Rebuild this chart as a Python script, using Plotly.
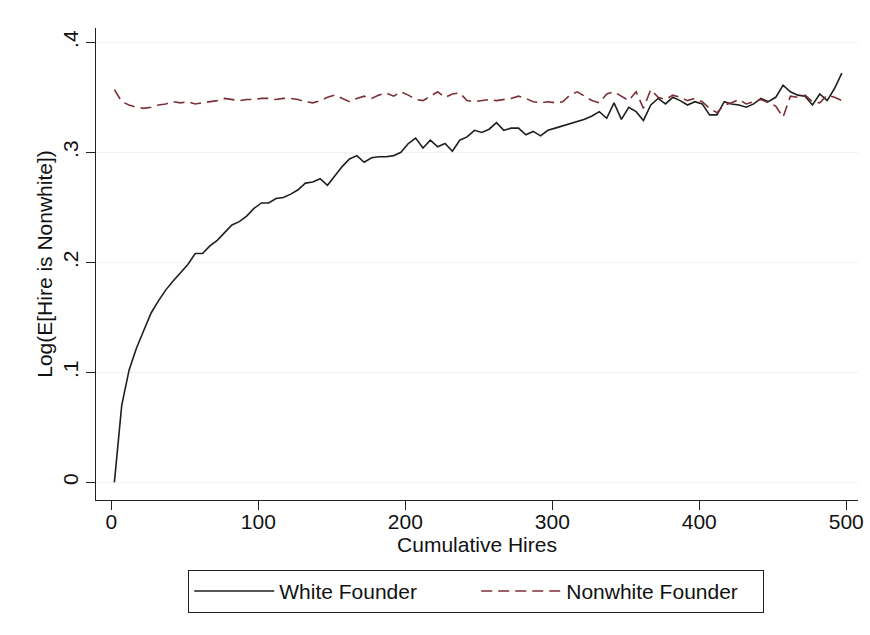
import plotly.graph_objects as go

# cumulative hires (bin positions)
hires = [
    2, 7, 12, 17, 22, 27, 32, 37, 42, 47, 52, 57, 62, 67, 72, 77, 82, 87, 92, 97,
    102, 107, 112, 117, 122, 127, 132, 137, 142, 147, 152, 157, 162, 167, 172, 177, 182, 187, 192, 197,
    202, 207, 212, 217, 222, 227, 232, 237, 242, 247, 252, 257, 262, 267, 272, 277, 282, 287, 292, 297,
    302, 307, 312, 317, 322, 327, 332, 337, 342, 347, 352, 357, 362, 367, 372, 377, 382, 387, 392, 397,
    402, 407, 412, 417, 422, 427, 432, 437, 442, 447, 452, 457, 462, 467, 472, 477, 482, 487, 492, 497,
]

white_founder = [
    0.000, 0.070, 0.102, 0.122, 0.138, 0.154, 0.165, 0.175, 0.183, 0.191,
    0.198, 0.208, 0.208, 0.215, 0.220, 0.227, 0.234, 0.237, 0.242, 0.249,
    0.254, 0.254, 0.258, 0.259, 0.262, 0.266, 0.272, 0.273, 0.276, 0.270,
    0.279, 0.287, 0.294, 0.297, 0.291, 0.295, 0.296, 0.296, 0.297, 0.300,
    0.308, 0.313, 0.304, 0.311, 0.305, 0.308, 0.301, 0.311, 0.314, 0.320,
    0.318, 0.321, 0.327, 0.320, 0.322, 0.322, 0.316, 0.319, 0.315, 0.320,
    0.322, 0.324, 0.326, 0.328, 0.330, 0.333, 0.337, 0.331, 0.345, 0.330,
    0.341, 0.337, 0.329, 0.343, 0.349, 0.344, 0.350, 0.347, 0.343, 0.346,
    0.344, 0.334, 0.334, 0.346, 0.344, 0.343, 0.341, 0.344, 0.349, 0.346,
    0.350, 0.361, 0.355, 0.352, 0.351, 0.343, 0.353, 0.347, 0.358, 0.372,
]

nonwhite_founder = [
    0.357, 0.346, 0.343, 0.341, 0.340, 0.341, 0.343, 0.344, 0.346, 0.345,
    0.346, 0.344, 0.345, 0.346, 0.347, 0.349, 0.348, 0.347, 0.348, 0.348,
    0.349, 0.349, 0.348, 0.349, 0.349, 0.348, 0.346, 0.345, 0.347, 0.350,
    0.352, 0.349, 0.346, 0.349, 0.351, 0.349, 0.352, 0.354, 0.351, 0.355,
    0.352, 0.348, 0.347, 0.351, 0.355, 0.350, 0.353, 0.354, 0.347, 0.346,
    0.347, 0.348, 0.347, 0.348, 0.349, 0.351, 0.349, 0.346, 0.345, 0.346,
    0.345, 0.346, 0.352, 0.355, 0.351, 0.347, 0.345, 0.353, 0.355, 0.351,
    0.347, 0.355, 0.340, 0.357, 0.350, 0.348, 0.352, 0.350, 0.347, 0.349,
    0.346, 0.340, 0.336, 0.343, 0.345, 0.348, 0.344, 0.346, 0.348, 0.345,
    0.342, 0.332, 0.351, 0.350, 0.352, 0.346, 0.345, 0.352, 0.350, 0.347,
]

x_ticks = [0, 100, 200, 300, 400, 500]
y_ticks = [0, 0.1, 0.2, 0.3, 0.4]
y_tick_text = ["0", ".1", ".2", ".3", ".4"]

FONT = "Liberation Sans, Arial, sans-serif"

fig = go.Figure()
fig.add_trace(go.Scatter(
    x=hires, y=white_founder, mode="lines", name="White Founder",
    line={"color": "#1f1f1f", "width": 1.6},
))
fig.add_trace(go.Scatter(
    x=hires, y=nonwhite_founder, mode="lines", name="Nonwhite Founder",
    line={"color": "#7d2f38", "width": 1.6, "dash": "11px,6px"},
))

fig.update_layout(
    width=870,
    height=635,
    paper_bgcolor="white",
    plot_bgcolor="white",
    font={"family": FONT, "size": 21, "color": "#111111"},
    margin={"l": 96, "r": 12, "t": 28, "b": 135, "autoexpand": False},
    showlegend=True,
    legend={
        "orientation": "h",
        "x": 0.499,
        "xanchor": "center",
        "y": -0.148,
        "yanchor": "top",
        "bordercolor": "#222222",
        "borderwidth": 1,
        "bgcolor": "white",
        "itemwidth": 80,
        "entrywidth": 192,
        "font": {"size": 21},
        "traceorder": "normal",
    },
)
fig.update_xaxes(
    range=[-10.5, 508],
    tickvals=x_ticks,
    ticks="outside",
    ticklen=9,
    tickcolor="#222222",
    ticklabelstandoff=-6,
    ticklabeloverflow="allow",
    automargin=False,
    showline=True,
    linecolor="#222222",
    linewidth=1,
    showgrid=False,
    zeroline=False,
    title={"text": "Cumulative Hires", "standoff": 4, "font": {"size": 21}},
)
fig.update_yaxes(
    range=[-0.016, 0.413],
    tickvals=y_ticks,
    ticktext=y_tick_text,
    tickangle=-90,
    ticks="outside",
    ticklen=9,
    tickcolor="#222222",
    automargin=False,
    showline=True,
    linecolor="#222222",
    linewidth=1,
    showgrid=True,
    gridcolor="#f1f2f2",
    zeroline=False,
    title={"text": "Log(E[Hire is Nonwhite])", "standoff": 0, "font": {"size": 21}},
)

# drop the default 8px page margin so the 870x635 figure fills the window
fig.write_html(
    "out.html",
    config={"displayModeBar": False},
    post_script="document.body.style.margin = '0px';",
)
